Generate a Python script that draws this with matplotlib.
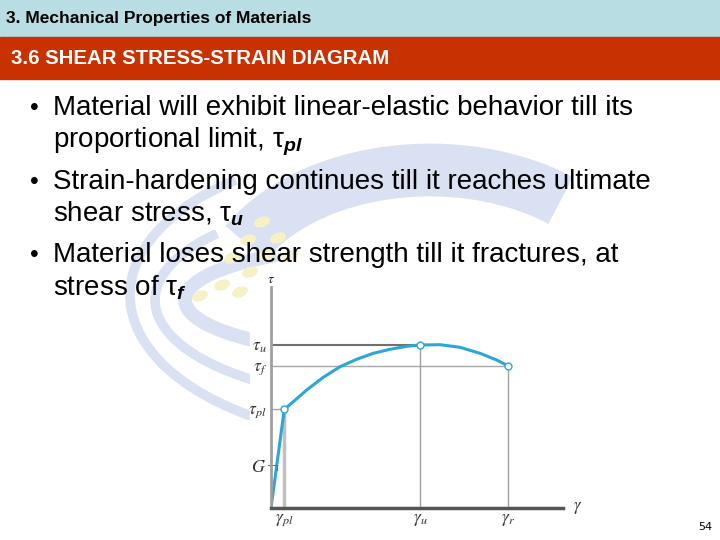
import matplotlib.pyplot as plt
from matplotlib.patches import Rectangle, Arc, Ellipse

plt.rcParams['font.family'] = ['Liberation Sans', 'DejaVu Sans']
plt.rcParams['mathtext.fontset'] = 'custom'
plt.rcParams['mathtext.it'] = 'Liberation Sans:italic:bold'
plt.rcParams['mathtext.rm'] = 'Liberation Sans'

# ---- slide text ----
header = "3. Mechanical Properties of Materials"
section = "3.6 SHEAR STRESS-STRAIN DIAGRAM"
bullets = [
    ["Material will exhibit linear-elastic behavior till its",
     "proportional limit, \u03c4$_{pl}$"],
    ["Strain-hardening continues till it reaches ultimate",
     "shear stress, \u03c4$_{u}$"],
    ["Material loses shear strength till it fractures, at",
     "stress of \u03c4$_{f}$"],
]
page_no = "54"

# ---- diagram data ----
gamma_pl, gamma_u, gamma_r = 13.3, 149, 237.3
tau_pl, tau_u, tau_f = 98.7, 163, 142
elastic_x = [0, gamma_pl]
elastic_y = [0, tau_pl]
curve_x = [13.3, 22.3, 35.7, 52.3, 69, 85.7, 102.3, 119, 135.7, 149,
           169, 189, 209, 225.7, 237.3]
curve_y = [98.7, 106.3, 118, 130.7, 141.3, 148.7, 154.7, 158.7, 161.7, 163,
           163.3, 160.7, 154.7, 148, 142]
x_max, y_max = 292, 221

fig = plt.figure(figsize=(7.2, 5.4), dpi=100)
bg = fig.add_axes([0, 0, 1, 1])
bg.set_xlim(0, 720)
bg.set_ylim(540, 0)
bg.axis('off')

# faint watermark logo behind the text (y is flipped, so angles run clockwise on screen)
wm = '#dae1f2'
bg.add_patch(Arc((430, 310), 420, 280, theta1=200, theta2=320, color=wm, lw=38, zorder=0))
bg.add_patch(Arc((400, 295), 540, 290, theta1=95, theta2=215, color=wm, lw=7, zorder=0))
bg.add_patch(Arc((400, 300), 490, 200, theta1=100, theta2=200, color=wm, lw=7, zorder=0))
bg.add_patch(Arc((400, 300), 430, 110, theta1=120, theta2=200, color=wm, lw=10, zorder=0))
for cx, cy in [(262, 222), (278, 238), (248, 240), (266, 255), (232, 258),
               (290, 256), (250, 272), (222, 285), (240, 292), (200, 296)]:
    bg.add_patch(Ellipse((cx, cy), 15, 9, angle=-20, color='#f7f1c6', zorder=0.2))
# the diagram picture itself is opaque white
bg.add_patch(Rectangle((250, 286), 345, 254, color='white', zorder=0.5))

# header bands
bg.add_patch(Rectangle((0, 0), 720, 36, color='#b8dee3', zorder=1))
bg.add_patch(Rectangle((0, 37), 720, 42, color='#c83200', zorder=1))
bg.text(6, 19, header, fontsize=12.5, fontweight='bold',
        va='center', color='black', zorder=2)
bg.text(11, 59, section, fontsize=14.7, fontweight='bold',
        va='center', color='white', zorder=2)

baselines = [115, 147, 189, 222, 262, 295]
for i, (l1, l2) in enumerate(bullets):
    bg.text(30, baselines[2 * i], "\u2022", fontsize=18, va='baseline', zorder=3)
    bg.text(53, baselines[2 * i], l1, fontsize=20, va='baseline', zorder=3)
    bg.text(53, baselines[2 * i + 1], l2, fontsize=20, va='baseline', zorder=3)

bg.text(712, 527, page_no, fontsize=8, ha='right', va='center',
        family='DejaVu Sans')

# ---- diagram ----
ax = fig.add_axes([271 / 720, (540 - 508) / 540, x_max / 720, y_max / 540])
ax.set_xlim(0, x_max)
ax.set_ylim(0, y_max)
ax.patch.set_alpha(0)
for s in ['top', 'right']:
    ax.spines[s].set_visible(False)
ax.spines['left'].set_color('#a0a0a0')
ax.spines['left'].set_linewidth(2)
ax.spines['bottom'].set_color('#555555')
ax.spines['bottom'].set_linewidth(2.5)
ax.tick_params(length=0, pad=3)

# guide lines
ax.plot([0, gamma_u], [tau_u, tau_u], color='#707070', lw=1.5)
ax.plot([0, gamma_r], [tau_f, tau_f], color='#a8a8a8', lw=1)
ax.plot([0, gamma_pl], [tau_pl, tau_pl], color='#a8a8a8', lw=1)
ax.plot([gamma_pl, gamma_pl], [0, tau_pl], color='#c0c0c0', lw=2.5)
ax.plot([gamma_u, gamma_u], [0, tau_u], color='#a0a0a0', lw=1)
ax.plot([gamma_r, gamma_r], [0, tau_f], color='#a0a0a0', lw=1)

blue = '#2ba6d8'
ax.plot(elastic_x, elastic_y, color=blue, lw=2.2, solid_capstyle='round')
ax.plot(curve_x, curve_y, color=blue, lw=2.2, solid_capstyle='round')
ax.plot([gamma_pl, gamma_u, gamma_r], [tau_pl, tau_u, tau_f], 'o',
        ms=5, mfc='white', mec=blue, mew=1, clip_on=False, zorder=5)

# slope indicator G
ax.plot([-3, 5.7, 5.7], [43, 43, 38], color='#707070', lw=0.8, clip_on=False)
ax.text(-5, 41, "$G$", fontsize=13, ha='right', va='center',
        math_fontfamily='stix', color='#333333')

ax.set_yticks([tau_pl, tau_f, tau_u])
ax.set_yticklabels([r"$\tau_{pl}$", r"$\tau_f$", r"$\tau_u$"])
ax.set_xticks([gamma_pl, gamma_u, gamma_r])
ax.set_xticklabels([r"$\gamma_{pl}$", r"$\gamma_u$", r"$\gamma_r$"])
for t in ax.get_xticklabels() + ax.get_yticklabels():
    t.set_math_fontfamily('stix')
    t.set_fontsize(12.5)
    t.set_color('#333333')

ax.text(0, y_max + 1, r"$\tau$", fontsize=10, ha='center', va='bottom',
        math_fontfamily='stix', color='#222222')
ax.text(x_max + 10, 0, r"$\gamma$", fontsize=12, ha='left', va='center',
        math_fontfamily='stix', color='#333333')

fig.savefig('out.png', dpi=100)
